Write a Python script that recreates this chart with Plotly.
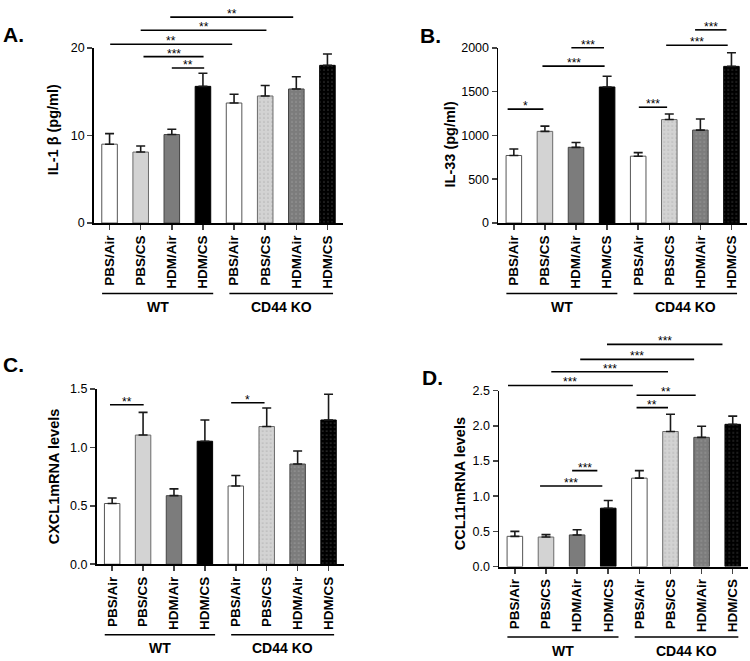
import plotly.graph_objects as go

# ---------------- data ----------------
categories = ["PBS/Air", "PBS/CS", "HDM/Air", "HDM/CS",
              "PBS/Air", "PBS/CS", "HDM/Air", "HDM/CS"]
groups = ["WT", "CD44 KO"]

il1b_mean = [9.0, 8.1, 10.1, 15.6, 13.7, 14.5, 15.3, 18.0]
il1b_err = [1.2, 0.7, 0.6, 1.5, 1.0, 1.2, 1.4, 1.3]
il1b_sig = [(2.0, 3.04, 17.7, "**"), (1.09, 3.02, 19.0, "***"),
            (0.02, 3.94, 20.4, "**"), (1.0, 5.04, 22.0, "**"),
            (1.95, 5.9, 23.5, "**")]

il33_mean = [771, 1046, 864, 1553, 763, 1181, 1061, 1788]
il33_err = [74, 60, 56, 123, 41, 63, 127, 156]
il33_sig = [(-0.2, 0.95, 1300, "*"), (1.85, 2.9, 2000, "***"),
            (0.92, 2.92, 1791, "***"), (4.02, 4.93, 1322, "***"),
            (4.9, 6.88, 2030, "***"), (5.83, 6.84, 2205, "***")]

cxcl1_mean = [0.52, 1.106, 0.587, 1.053, 0.67, 1.179, 0.858, 1.235]
cxcl1_err = [0.047, 0.194, 0.058, 0.182, 0.09, 0.159, 0.111, 0.22]
cxcl1_sig = [(-0.07, 1.02, 1.366, "**"), (3.85, 4.93, 1.383, "*")]

ccl11_mean = [0.43, 0.42, 0.45, 0.83, 1.257, 1.92, 1.837, 2.022]
ccl11_err = [0.07, 0.035, 0.074, 0.11, 0.107, 0.246, 0.157, 0.116]
ccl11_sig = [(-0.22, 3.79, 2.574, "***"), (1.17, 4.92, 2.77, "***"),
             (2.1, 5.76, 2.945, "***"), (2.96, 6.67, 3.159, "***"),
             (3.91, 4.92, 2.259, "**"), (3.91, 5.81, 2.435, "**"),
             (0.81, 2.81, 1.146, "***"), (1.84, 2.65, 1.364, "***")]

il1b_ticks = [0, 10, 20]
il33_ticks = [0, 500, 1000, 1500, 2000]
cxcl1_ticks = [0.0, 0.5, 1.0, 1.5]
ccl11_ticks = [0.0, 0.5, 1.0, 1.5, 2.0, 2.5]

# ---------------- styling ----------------
W, H = 750, 661
FONT = "Arial, Liberation Sans, Helvetica, sans-serif"
fill_colors = ["white", "#d3d3d3", "#7c7c7c", "black"] * 2
edge_colors = ["#555555", "#6a6a6a", "#444444", "black"] * 2
pattern_shapes = [""] * 5 + ["."] * 3

panels = [
    dict(letter="A.", title="IL-1 β (pg/ml)", mean=il1b_mean, err=il1b_err,
         sig=il1b_sig, ticks=il1b_ticks, fmt=lambda v: f"{v:g}",
         px=(94, 343), py=(41.7, 220.7), letter_pos=(1, 28),
         title_dx=-41, title_y=0.53),
    dict(letter="B.", title="IL-33 (pg/ml)", mean=il33_mean, err=il33_err,
         sig=il33_sig, ticks=il33_ticks, fmt=lambda v: f"{v:g}",
         px=(498.3, 747), py=(41.7, 220.7), letter_pos=(418, 29),
         title_dx=-48, title_y=0.45),
    dict(letter="C.", title="CXCL1mRNA levels", mean=cxcl1_mean, err=cxcl1_err,
         sig=cxcl1_sig, ticks=cxcl1_ticks, fmt=lambda v: f"{v:.1f}",
         px=(96.7, 344), py=(390.3, 569.3), letter_pos=(1, 365),
         title_dx=-43, title_y=0.5),
    dict(letter="D.", title="CCL11mRNA levels", mean=ccl11_mean, err=ccl11_err,
         sig=ccl11_sig, ticks=ccl11_ticks, fmt=lambda v: f"{v:.1f}",
         px=(499.3, 748.3), py=(392, 571.7), letter_pos=(420, 379),
         title_dx=-39, title_y=0.47),
]

group_spans = [(-0.24, 3.33), (3.85, 7.18)]
xpos = list(range(len(categories)))

fig = go.Figure()
shapes, annotations = [], []
layout = dict(width=W, height=H, margin=dict(l=0, r=0, t=0, b=0),
              paper_bgcolor="white", plot_bgcolor="white",
              showlegend=False, font=dict(family=FONT, color="black"))

for i, p in enumerate(panels):
    n = "" if i == 0 else str(i + 1)
    xa, ya = "x" + n, "y" + n
    ymax = p["ticks"][-1]
    plot_h = p["py"][1] - p["py"][0]

    fig.add_trace(go.Bar(
        x=xpos, y=p["mean"], xaxis=xa, yaxis=ya, width=0.5,
        marker=dict(color=fill_colors,
                    line=dict(color=edge_colors, width=1),
                    pattern=dict(shape=pattern_shapes, fgcolor="white",
                                 size=4, solidity=0.07)),
        error_y=dict(type="data", symmetric=False, array=p["err"],
                     arrayminus=[0] * len(p["err"]), color="#1a1a1a",
                     thickness=1.6, width=4.5),
        hoverinfo="skip"))

    layout["xaxis" + n] = dict(
        domain=[p["px"][0] / W, p["px"][1] / W], anchor=ya,
        range=[-0.5, 7.5], tickmode="array", tickvals=xpos,
        ticktext=[f"<b>{c}</b>" for c in categories], tickangle=-90,
        tickfont=dict(size=13.5, family=FONT), ticks="outside", ticklen=5,
        tickwidth=1.5, showline=True, linecolor="black", linewidth=2,
        showgrid=False, zeroline=False, fixedrange=True)
    layout["yaxis" + n] = dict(
        domain=[1 - p["py"][1] / H, 1 - p["py"][0] / H], anchor=xa,
        range=[0, ymax], tickmode="array", tickvals=p["ticks"],
        ticktext=[p["fmt"](v) for v in p["ticks"]],
        tickfont=dict(size=12.5, family=FONT), ticks="outside", ticklen=5,
        tickwidth=1.5, showline=True, linecolor="black", linewidth=1.8,
        showgrid=False, zeroline=False, fixedrange=True)

    # significance bars
    for (x0, x1, yv, lab) in p["sig"]:
        fy = yv / ymax
        shapes.append(dict(type="line", xref=xa, yref=ya + " domain",
                           x0=x0, x1=x1, y0=fy, y1=fy,
                           line=dict(color="black", width=1.6)))
        annotations.append(dict(xref=xa, yref=ya + " domain",
                                x=(x0 + x1) / 2, y=fy, text=lab,
                                showarrow=False, yanchor="bottom",
                                yshift=-6, font=dict(size=12, family=FONT)))

    # group underlines
    for (g0, g1), gname in zip(group_spans, groups):
        fy = -72 / plot_h
        shapes.append(dict(type="line", xref=xa, yref=ya + " domain",
                           x0=g0, x1=g1, y0=fy, y1=fy,
                           line=dict(color="black", width=1.6)))
        annotations.append(dict(xref=xa, yref=ya + " domain",
                                x=(g0 + g1) / 2, y=-86 / plot_h,
                                text=f"<b>{gname}</b>", showarrow=False,
                                yanchor="middle", xanchor="center",
                                font=dict(size=14, family=FONT)))

    # y-axis title
    annotations.append(dict(xref=xa + " domain", yref=ya + " domain",
                            x=0, xshift=p["title_dx"], y=p["title_y"],
                            text=f"<b>{p['title']}</b>", textangle=-90,
                            showarrow=False, xanchor="center",
                            yanchor="middle",
                            font=dict(size=14.5, family=FONT)))

    # panel letter
    lx, ly = p["letter_pos"]
    annotations.append(dict(xref="paper", yref="paper", x=lx / W,
                            y=1 - ly / H, text=f"<b>{p['letter']}</b>",
                            showarrow=False, xanchor="left",
                            yanchor="middle",
                            font=dict(size=21, family=FONT)))

layout["shapes"] = shapes
layout["annotations"] = annotations
fig.update_layout(**layout)
fig.write_html("out.html",
               config={"displayModeBar": False, "staticPlot": True},
               post_script="document.body.style.margin='0';"
                           "document.body.style.overflow='hidden';")
